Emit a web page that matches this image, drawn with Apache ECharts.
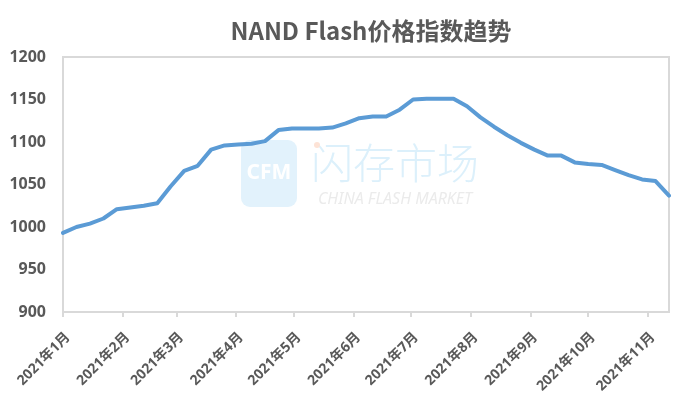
<!DOCTYPE html>
<html>
<head>
<meta charset="utf-8">
<script src="https://cdn.jsdelivr.net/npm/echarts@6/dist/echarts.min.js"></script>
<style>html,body{margin:0;padding:0;background:#fff}#c{width:681px;height:396px}</style>
</head>
<body>
<div id="c"></div>
<script>
const titleText = 'NAND Flash价格指数趋势';
const dates = ['2021-01-01','2021-01-08','2021-01-15','2021-01-22','2021-01-29',
  '2021-02-05','2021-02-12','2021-02-19','2021-02-26',
  '2021-03-05','2021-03-12','2021-03-19','2021-03-26',
  '2021-04-02','2021-04-09','2021-04-16','2021-04-23','2021-04-30',
  '2021-05-07','2021-05-14','2021-05-21','2021-05-28',
  '2021-06-04','2021-06-11','2021-06-18','2021-06-25',
  '2021-07-02','2021-07-09','2021-07-16','2021-07-23','2021-07-30',
  '2021-08-06','2021-08-13','2021-08-20','2021-08-27',
  '2021-09-03','2021-09-10','2021-09-17','2021-09-24',
  '2021-10-01','2021-10-08','2021-10-15','2021-10-22','2021-10-29',
  '2021-11-05','2021-11-12'];
const indexValues = [993,1000,1004,1010,1021,1023,1025,1028,1048,1066,1072,1091,1096,1097,1098,1101,
  1114,1116,1116,1116,1117,1122,1128,1130,1130,1138,1150,1151,1151,1151,1142,1129,1118,1108,1099,1091,
  1084,1084,1076,1074,1073,1067,1061,1056,1054,1037];
const monthStarts = ['2021-01-01','2021-02-01','2021-03-01','2021-04-01','2021-05-01','2021-06-01',
  '2021-07-01','2021-08-01','2021-09-01','2021-10-01','2021-11-01'];
const monthLabels = ['2021年1月','2021年2月','2021年3月','2021年4月','2021年5月','2021年6月',
  '2021年7月','2021年8月','2021年9月','2021年10月','2021年11月'];
const yTicks = [900, 950, 1000, 1050, 1100, 1150, 1200];

const DAY = 86400000;
function dayNum(s){ const p = s.split('-').map(Number); return Math.round(Date.UTC(p[0], p[1]-1, p[2]) / DAY); }
const monthDays = monthStarts.map(dayNum);

const chart = echarts.init(document.getElementById('c'));
const FONT = '"Noto Sans", "Noto Sans CJK SC", sans-serif';
chart.setOption({
  animation: false,
  backgroundColor: '#ffffff',
  grid: { left: 63, right: 12, top: 57, bottom: 84, show: true, borderColor: '#d9d9d9', borderWidth: 2, outerBoundsMode: 'none' },
  graphic: [
    { type: 'rect', z: -10, shape: { x: 241, y: 140, width: 56, height: 67, r: 9 }, style: { fill: '#e2f2fc' } },
    { type: 'text', z: -9, x: 269, y: 173, style: { text: 'CFM', fill: '#ffffff', font: 'bold 21px "Noto Sans", sans-serif', textAlign: 'center', textVerticalAlign: 'middle' } },
    { type: 'text', z: -9, x: 395, y: 163, style: { text: '闪存市场', fill: '#dcf0fb', font: '300 42px "Noto Sans CJK SC", sans-serif', textAlign: 'center', textVerticalAlign: 'middle' } },
    { type: 'circle', z: -9, shape: { cx: 317, cy: 145, r: 3 }, style: { fill: '#fde3d6' } },
    { type: 'text', z: -9, x: 395, y: 199, style: { text: 'CHINA FLASH MARKET', fill: '#ebebeb', font: 'italic 16px "Noto Sans", sans-serif', textAlign: 'center', textVerticalAlign: 'middle' } },
    { type: 'text', x: 371, y: 31, style: { text: titleText, fill: '#595959', font: 'bold 24px "Noto Sans CJK SC", sans-serif', textAlign: 'center', textVerticalAlign: 'middle' } }
  ],
  xAxis: {
    type: 'value',
    min: dayNum(dates[0]),
    max: dayNum(dates[dates.length - 1]),
    axisLine: { show: true, lineStyle: { color: '#d9d9d9', width: 2 } },
    axisTick: { show: true, length: 5, customValues: monthDays, lineStyle: { color: '#d9d9d9', width: 2 } },
    splitLine: { show: false },
    axisLabel: {
      customValues: monthDays,
      rotate: 45,
      margin: 18,
      verticalAlign: 'top',
      color: '#595959',
      fontWeight: 'bold',
      fontSize: 14,
      fontFamily: FONT,
      formatter: function (v) { const i = monthDays.indexOf(Math.round(v)); return i >= 0 ? monthLabels[i] : ''; }
    }
  },
  yAxis: {
    type: 'value',
    min: yTicks[0],
    max: yTicks[yTicks.length - 1],
    interval: 50,
    axisLine: { show: false },
    axisTick: { show: false },
    splitLine: { show: false },
    axisLabel: { color: '#595959', fontWeight: 'bold', fontSize: 16, fontFamily: FONT, margin: 17, formatter: function (v) { return String(v); } }
  },
  series: [{
    type: 'line',
    data: dates.map((d, i) => [dayNum(d), indexValues[i]]),
    showSymbol: false,
    symbol: 'none',
    lineStyle: { color: '#5b9bd5', width: 4, cap: 'round', join: 'round' },
    z: 5
  }]
});
</script>
</body>
</html>
